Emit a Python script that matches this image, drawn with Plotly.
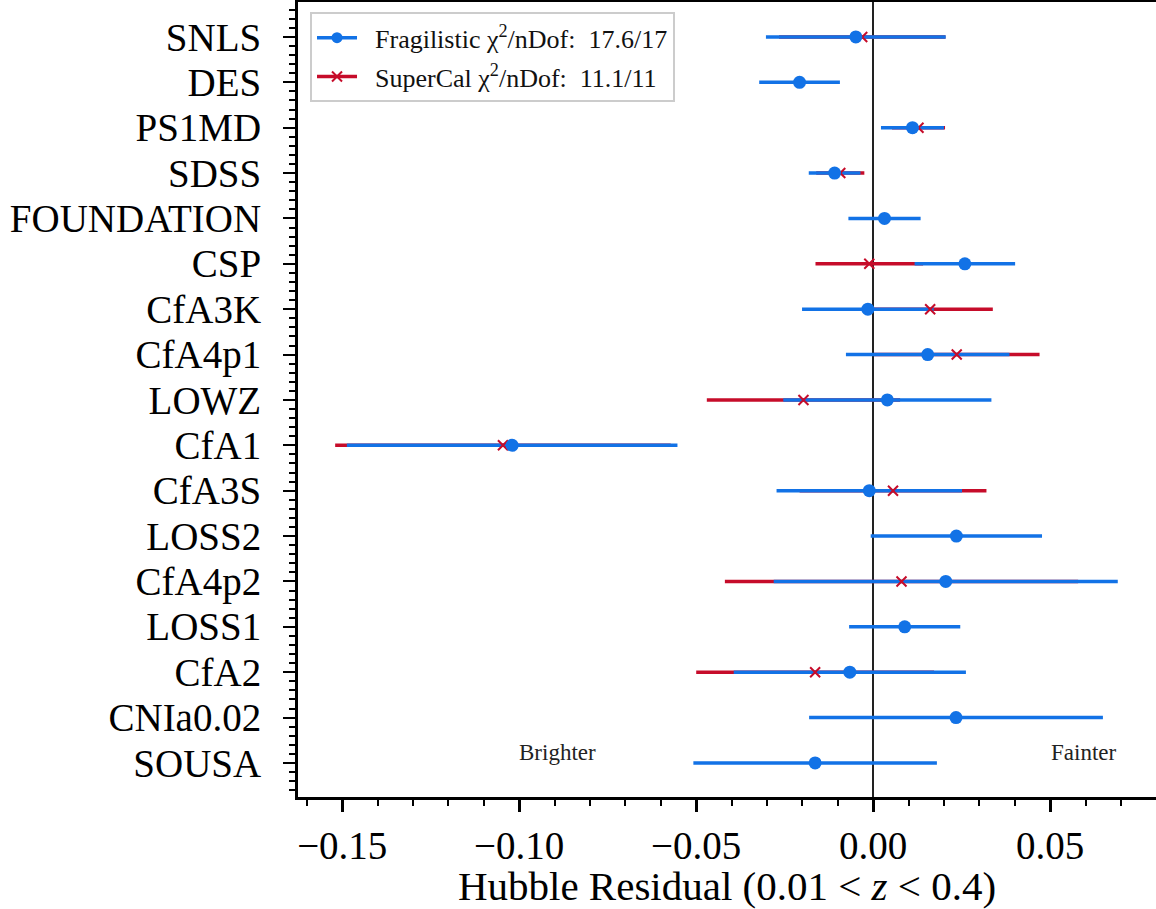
import plotly.graph_objects as go

# ---------------- data ----------------
surveys = ["SNLS", "DES", "PS1MD", "SDSS", "FOUNDATION", "CSP", "CfA3K", "CfA4p1",
           "LOWZ", "CfA1", "CfA3S", "LOSS2", "CfA4p2", "LOSS1", "CfA2", "CNIa0.02", "SOUSA"]

frag_resid = [-0.0049, -0.0208, 0.0111, -0.0109, 0.0032, 0.0259, -0.0015, 0.0154,
              0.0040, -0.1020, -0.0011, 0.0235, 0.0205, 0.0089, -0.0066, 0.0234, -0.0164]
frag_err = [0.0254, 0.0114, 0.0089, 0.0073, 0.0102, 0.0142, 0.0186, 0.0231,
            0.0294, 0.0467, 0.0262, 0.0242, 0.0486, 0.0157, 0.0328, 0.0415, 0.0344]

super_resid = [-0.0031, None, 0.0128, -0.0093, None, -0.0011, 0.0161, 0.0236,
               -0.0197, -0.1046, 0.0056, None, 0.0080, None, -0.0164, None, None]
super_err = [0.0235, 0, 0.0075, 0.0068, 0, 0.0152, 0.0177, 0.0234,
             0.0273, 0.0474, 0.0264, 0, 0.0499, 0, 0.0336, 0, 0]

xtick_vals = [-0.15, -0.10, -0.05, 0.00, 0.05]
xtick_text = ["−0.15", "−0.10", "−0.05", "0.00", "0.05"]

frag_label = "\u00a0\u00a0Fragilistic χ<sup>2</sup>/nDof:  17.6/17"
super_label = "\u00a0\u00a0SuperCal χ<sup>2</sup>/nDof:  11.1/11"
xlabel = "Hubble Residual (0.01 < <i>z</i> < 0.4)"

BLUE = "#1272E6"
RED = "#C60C2A"
FONT = "Liberation Serif"

ypos = list(range(len(surveys)))

fig = go.Figure()

# error bars (SuperCal underneath, Fragilistic on top)
fig.add_trace(go.Scatter(
    x=super_resid, y=ypos, mode="markers",
    marker=dict(color="rgba(0,0,0,0)", size=1),
    error_x=dict(type="data", array=super_err, color=RED, thickness=3.5, width=0),
    showlegend=False, hoverinfo="skip"))
fig.add_trace(go.Scatter(
    x=frag_resid, y=ypos, mode="markers",
    marker=dict(color="rgba(0,0,0,0)", size=1),
    error_x=dict(type="data", array=frag_err, color=BLUE, thickness=3.5, width=0),
    showlegend=False, hoverinfo="skip"))
# markers
fig.add_trace(go.Scatter(
    x=super_resid, y=ypos, mode="markers",
    marker=dict(symbol="x-thin", size=10, line=dict(color=RED, width=2), color=RED),
    showlegend=False))
fig.add_trace(go.Scatter(
    x=frag_resid, y=ypos, mode="markers",
    marker=dict(symbol="circle", size=13, color=BLUE),
    showlegend=False))

# legend entries
fig.add_trace(go.Scatter(
    x=[None], y=[None], mode="lines+markers", name=frag_label, legendgroup="a",
    line=dict(color=BLUE, width=3.5), marker=dict(symbol="circle", size=11, color=BLUE)))
fig.add_trace(go.Scatter(
    x=[None], y=[None], mode="lines+markers", name=super_label, legendgroup="b",
    line=dict(color=RED, width=3.5),
    marker=dict(symbol="x-thin", size=10, color=RED, line=dict(color=RED, width=2))))

fig.add_annotation(x=-0.0893, y=15.77, xref="x", yref="y", text="Brighter", showarrow=False,
                   font=dict(family=FONT, size=23, color="#222222"))
fig.add_annotation(x=0.0594, y=15.77, xref="x", yref="y", text="Fainter", showarrow=False,
                   font=dict(family=FONT, size=23, color="#222222"))

fig.update_layout(
    width=1156, height=909,
    margin=dict(l=298, r=0, t=2, b=112),
    paper_bgcolor="white", plot_bgcolor="white",
    font=dict(family=FONT, color="black"),
    showlegend=True,
    legend=dict(x=0.014, y=0.987, xanchor="left", yanchor="top",
                bgcolor="white", bordercolor="#cccccc", borderwidth=2,
                font=dict(family=FONT, size=26, color="#111111"),
                traceorder="grouped", tracegroupgap=2, itemwidth=40),
    xaxis=dict(
        range=[-0.1625, 0.0799], showgrid=False, automargin=False,
        zeroline=True, zerolinecolor="#222222", zerolinewidth=1.5,
        showline=True, linecolor="black", linewidth=3, mirror=True,
        ticks="outside", ticklen=12, tickwidth=2.5, tickcolor="black",
        tickvals=xtick_vals, ticktext=xtick_text,
        tickfont=dict(family=FONT, size=39, color="black"),
        minor=dict(ticks="outside", ticklen=6, tickwidth=2, tickcolor="black", dtick=0.01, tick0=0),
        title=dict(text=xlabel, font=dict(family=FONT, size=41, color="black"), standoff=2),
    ),
    yaxis=dict(
        range=[16.75, -0.77], showgrid=False, zeroline=False, automargin=False,
        showline=True, linecolor="black", linewidth=3, mirror=False,
        ticks="outside", ticklen=12, tickwidth=2, tickcolor="black",
        tickvals=ypos, ticktext=surveys,
        tickfont=dict(family=FONT, size=39, color="black"),
        ticklabelstandoff=14,
        minor=dict(ticks="outside", ticklen=6, tickwidth=1.5, tickcolor="black", dtick=0.2, tick0=0),
    ),
)

fig.write_html("out.html", config={"displayModeBar": False},
               post_script="document.body.style.margin='0px';")
